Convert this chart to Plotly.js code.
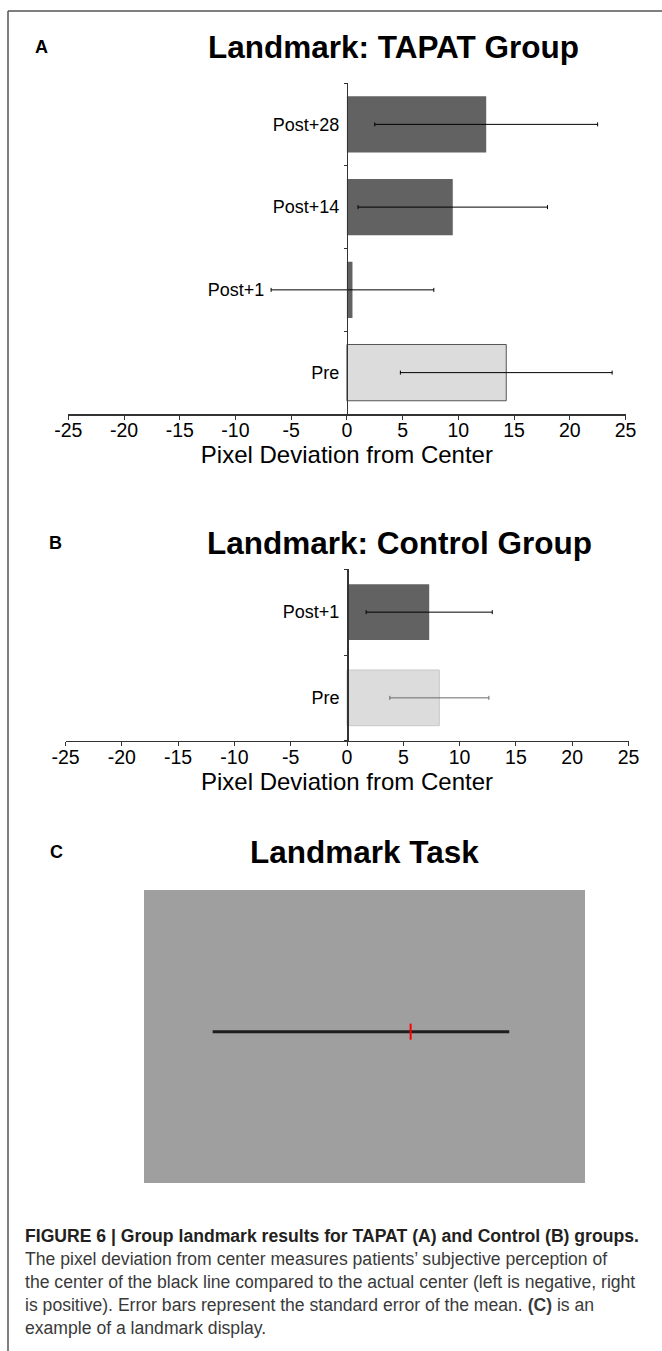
<!DOCTYPE html>
<html><head><meta charset="utf-8">
<script src="https://cdn.plot.ly/plotly-3.0.1.min.js"></script>
<style>html,body{margin:0;padding:0;background:#fff}#chart{width:662px;height:1351px}</style>
</head><body><div id="chart"></div>
<script>
// ---- data ----
const catsA = ['Pre', 'Post+1', 'Post+14', 'Post+28'];
const meanA = [14.3, 0.5, 9.5, 12.5];
const semA  = [9.5, 7.3, 8.5, 10.0];

const catsB = ['Pre', 'Post+1'];
const meanB = [8.2, 7.3];
const semB  = [4.4, 5.6];

const xTickVals = [-25, -20, -15, -10, -5, 0, 5, 10, 15, 20, 25];
const xTickText = ['-25', '-20', '-15', '-10', '-5', '0', '5', '10', '15', '20', '25'];
const xTitle = 'Pixel Deviation from Center';

// landmark display (panel C), line spans -1..1, red mark = bisection
const lineX = [-1, 1];
const lineY = [0.033, 0.033];
const markX = [0.335, 0.335];
const markY = [-0.022, 0.088];

const caption = [
  '<b>FIGURE 6 | Group landmark results for TAPAT (A) and Control (B) groups.</b>',
  'The pixel deviation from center measures patients\u2019 subjective perception of',
  'the center of the black line compared to the actual center (left is negative, right',
  'is positive). Error bars represent the standard error of the mean. <b>(C)</b> is an',
  'example of a landmark display.'
];

// ---- layout helpers ----
const W = 662, H = 1351;
const fx = p => p / W;
const fy = p => 1 - p / H;
const FONT = 'Liberation Sans, Arial, sans-serif';
const DARK = '#626262', LIGHT = '#dcdcdc';
const NBSP = '\u00a0';

function errs(arr, color) {
  return {type: 'data', array: arr, visible: true, color: color, thickness: 1, width: 2};
}

const traces = [
  {type: 'bar', orientation: 'h', y: catsA.slice(0, 1), x: meanA.slice(0, 1),
   error_x: errs(semA.slice(0, 1), '#000'), width: 0.68,
   marker: {color: LIGHT, line: {color: '#555', width: 1}}, xaxis: 'x', yaxis: 'y', hoverinfo: 'skip'},
  {type: 'bar', orientation: 'h', y: catsA.slice(1), x: meanA.slice(1),
   error_x: errs(semA.slice(1), '#000'), width: 0.68,
   marker: {color: DARK, line: {width: 0}}, xaxis: 'x', yaxis: 'y', hoverinfo: 'skip'},
  {type: 'bar', orientation: 'h', y: catsB.slice(0, 1), x: meanB.slice(0, 1),
   error_x: errs(semB.slice(0, 1), '#6a6a6a'), width: 0.65,
   marker: {color: LIGHT, line: {color: '#c8c8c8', width: 1}}, xaxis: 'x2', yaxis: 'y2', hoverinfo: 'skip'},
  {type: 'bar', orientation: 'h', y: catsB.slice(1), x: meanB.slice(1),
   error_x: errs(semB.slice(1), '#000'), width: 0.65,
   marker: {color: DARK, line: {width: 0}}, xaxis: 'x2', yaxis: 'y2', hoverinfo: 'skip'},
  {type: 'scatter', mode: 'lines', x: lineX, y: lineY, line: {color: '#1e1e1e', width: 3},
   xaxis: 'x3', yaxis: 'y3', hoverinfo: 'skip'},
  {type: 'scatter', mode: 'lines', x: markX, y: markY, line: {color: '#ff0000', width: 2},
   xaxis: 'x3', yaxis: 'y3', hoverinfo: 'skip'}
];

function xax(d0, d1, anchor) {
  return {domain: [fx(d0), fx(d1)], anchor: anchor, range: [-25, 25],
    tickmode: 'array', tickvals: xTickVals, ticktext: xTickText,
    ticks: 'outside', ticklen: 4, tickcolor: '#333', tickwidth: 1,
    showline: true, linecolor: '#333', linewidth: 1.5, showgrid: false, zeroline: false,
    tickfont: {family: FONT, size: 19.5, color: '#000'}, ticklabelstandoff: -6,
    title: {text: xTitle, font: {family: FONT, size: 24, color: '#000'}, standoff: 0},
    fixedrange: true};
}
function yax(t, b, cats, xpos, labels) {
  return {domain: [fy(b), fy(t)], anchor: 'free', position: fx(xpos), type: 'category',
    categoryorder: 'array', categoryarray: cats, range: [-0.5, cats.length - 0.5],
    tickmode: 'array', tickvals: cats, ticktext: labels,
    tickson: 'boundaries', ticks: 'outside', ticklen: 3, tickcolor: '#333',
    showline: true, linecolor: '#333', linewidth: 1.5, showgrid: false, zeroline: false,
    tickfont: {family: FONT, size: 18, color: '#000'}, ticklabelstandoff: 4, fixedrange: true};
}
// In panel A the Post+1 label sits left of its error bar
const labelsA = catsA.map(c => c === 'Post+1' ? c + NBSP.repeat(15) : c);

const ann = [];
function txt(x, y, text, size, opts) {
  ann.push(Object.assign({xref: 'paper', yref: 'paper', x: fx(x), y: fy(y), text: text,
    showarrow: false, font: {family: FONT, size: size, color: '#000'},
    xanchor: 'center', yanchor: 'middle'}, opts || {}));
}
txt(41, 47, '<b>A</b>', 18);
txt(393, 47, '<b>Landmark: TAPAT Group</b>', 31.5);
txt(55, 543, '<b>B</b>', 18);
txt(399, 543, '<b>Landmark: Control Group</b>', 31.5);
txt(56, 852, '<b>C</b>', 18);
txt(364, 852, '<b>Landmark Task</b>', 31.5);
caption.forEach((line, i) => {
  txt(23, 1236 + i * 23, line, 17.6, {xanchor: 'left', align: 'left',
    font: {family: FONT, size: 17.6, color: i === 0 ? '#231f20' : '#3a3a3a'}});
});

const layout = {
  width: W, height: H, margin: {l: 0, r: 0, t: 0, b: 0, pad: 0},
  paper_bgcolor: '#fff', plot_bgcolor: 'rgba(0,0,0,0)', showlegend: false,
  barmode: 'overlay', font: {family: FONT, color: '#000'},
  xaxis: xax(68.3, 625.5, 'y'),
  yaxis: yax(83, 414, catsA, 346.9, labelsA),
  xaxis2: xax(65.5, 628.5, 'y2'),
  yaxis2: yax(569.3, 740.7, catsB, 347, catsB),
  xaxis3: {domain: [fx(144), fx(585)], anchor: 'y3', range: [-1.463, 1.511], visible: false, fixedrange: true},
  yaxis3: {domain: [fy(1183), fy(890)], anchor: 'x3', range: [-1, 1], visible: false, fixedrange: true},
  shapes: [
    {type: 'rect', xref: 'x3 domain', yref: 'y3 domain', x0: 0, x1: 1, y0: 0, y1: 1,
     fillcolor: '#9f9f9f', line: {width: 0}, layer: 'below'},
    {type: 'line', xref: 'paper', yref: 'paper', x0: fx(8), x1: fx(8), y0: fy(11), y1: 0,
     line: {color: '#555', width: 1.5}},
    {type: 'line', xref: 'paper', yref: 'paper', x0: fx(8), x1: 1, y0: fy(11), y1: fy(11),
     line: {color: '#555', width: 1.5}}
  ],
  annotations: ann
};

Plotly.newPlot('chart', traces, layout, {displayModeBar: false, staticPlot: true});
</script>
</body></html>
